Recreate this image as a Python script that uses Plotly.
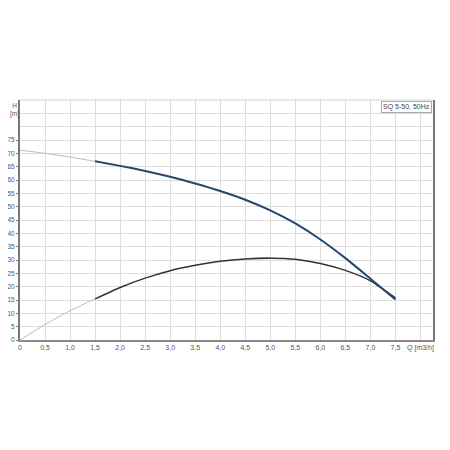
import plotly.graph_objects as go

# pump curve data
q_ext = [0, 0.5, 1.0, 1.5]
h_ext = [71.2, 70.0, 68.6, 67.0]
p_ext = [0, 5.8, 11.0, 15.4]

q_main = [1.5, 2.0, 2.5, 3.0, 3.5, 4.0, 4.5, 5.0, 5.5, 6.0, 6.5, 7.0, 7.5]
h_main = [67.0, 65.3, 63.4, 61.2, 58.7, 55.9, 52.6, 48.6, 43.7, 37.7, 30.7, 23.0, 15.2]
p_main = [15.4, 19.7, 23.2, 26.0, 28.0, 29.5, 30.4, 30.7, 30.3, 28.7, 26.1, 22.2, 15.8]

x_ticks = [0, 0.5, 1.0, 1.5, 2.0, 2.5, 3.0, 3.5, 4.0, 4.5, 5.0, 5.5, 6.0, 6.5, 7.0, 7.5, 8.0]
x_labels = ["0", "0,5", "1,0", "1,5", "2,0", "2,5", "3,0", "3,5", "4,0", "4,5",
            "5,0", "5,5", "6,0", "6,5", "7,0", "7,5", "Q [m3/h]"]
y_ticks = list(range(0, 80, 5))

fig = go.Figure()
fig.add_trace(go.Scatter(x=q_ext, y=h_ext, mode="lines",
                         line=dict(color="#bcbcbc", width=1, shape="spline", smoothing=0.6)))
fig.add_trace(go.Scatter(x=q_ext, y=p_ext, mode="lines",
                         line=dict(color="#bcbcbc", width=1, shape="spline", smoothing=0.6)))
fig.add_trace(go.Scatter(x=q_main, y=p_main, mode="lines",
                         line=dict(color="#333333", width=1.5, shape="spline", smoothing=0.6)))
fig.add_trace(go.Scatter(x=q_main, y=h_main, mode="lines",
                         line=dict(color="#25476a", width=2, shape="spline", smoothing=0.6)))

grid = "#dddddd"
fig.update_xaxes(
    range=[0, 8.25], tickmode="array", tickvals=x_ticks, ticktext=x_labels,
    showgrid=True, gridcolor=grid, gridwidth=1, zeroline=False, automargin=False,
    showline=True, linecolor="#8a8a8a", linewidth=2,
    ticks="", tickfont=dict(size=7, color="#555555", family="Liberation Sans"),
)
fig.update_yaxes(
    range=[0, 90], tickmode="array", tickvals=y_ticks,
    showgrid=True, gridcolor=grid, gridwidth=1, zeroline=False, automargin=False,
    minor=dict(dtick=5, tick0=0, showgrid=True, gridcolor=grid, gridwidth=1),
    showline=True, mirror=True, linecolor="#777777", linewidth=2,
    ticks="outside", ticklen=2, tickcolor="#777777", ticklabelstandoff=0,
    tickfont=dict(size=6.5, color="#555555", family="Liberation Sans"),
)
fig.add_shape(type="line", xref="paper", yref="paper", x0=0, x1=1, y0=1, y1=1,
              line=dict(color="#d0d0d0", width=1))
fig.add_annotation(text="H<br>[m]", xref="paper", yref="paper", x=-0.028, y=1.0,
                   xanchor="left", yanchor="top", showarrow=False, align="center",
                   font=dict(size=6.5, color="#555555", family="Liberation Sans"))
fig.add_annotation(text="SQ 5-50, 50Hz", xref="paper", yref="paper", x=0.997, y=0.997,
                   xanchor="right", yanchor="top", showarrow=False,
                   bordercolor="#aaaaaa", borderwidth=1, borderpad=1, bgcolor="white",
                   font=dict(size=7, color="#444444", family="Liberation Sans"))
fig.update_layout(
    width=450, height=450, showlegend=False,
    margin=dict(l=12, r=25, t=92, b=118),
    plot_bgcolor="white", paper_bgcolor="white",
)
fig.write_html("out.html")
